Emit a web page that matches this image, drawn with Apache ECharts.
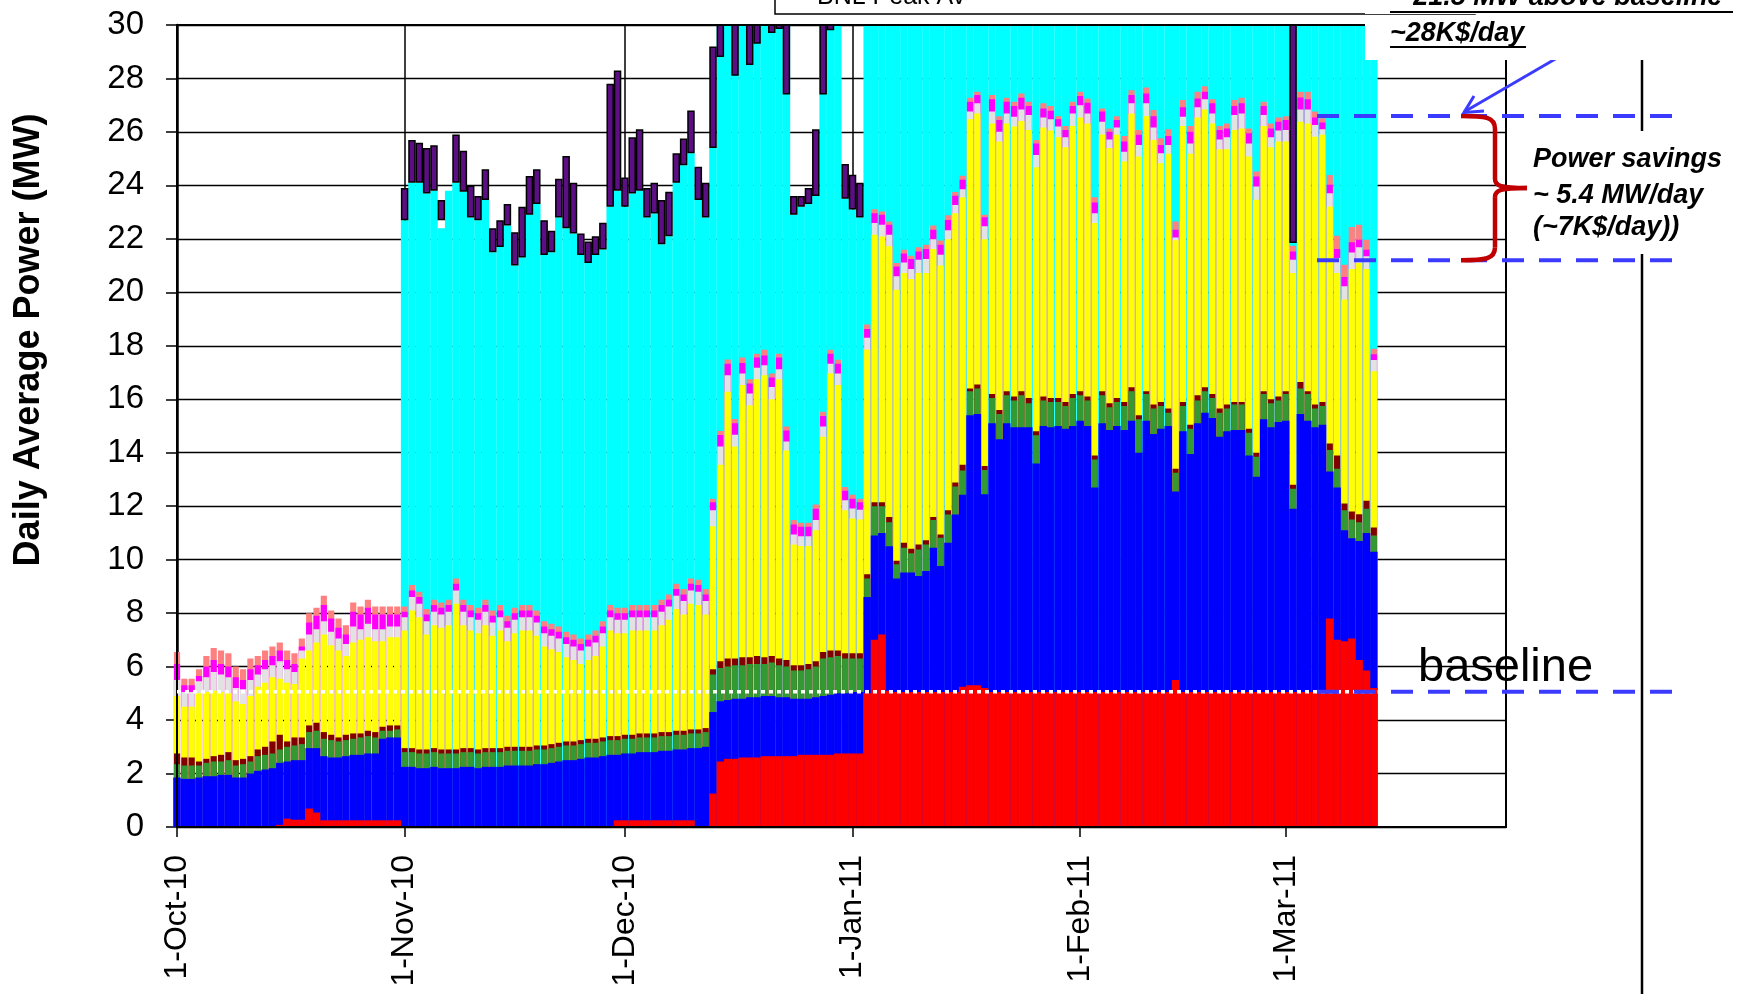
<!DOCTYPE html>
<html><head><meta charset="utf-8">
<script src="https://cdn.jsdelivr.net/npm/echarts@6/dist/echarts.min.js"></script>
<style>html,body{margin:0;padding:0;background:#fff;}#chart{width:1740px;height:994px;}</style>
</head><body><div id="chart"></div>
<script>
// ---------- axis / categories ----------
const axisStart = [2010, 9, 1];   // 1-Oct-10
const axisDays = 182;             // through 31-Mar-11
const monthTickLabels = {'2010-10-01':'1-Oct-10','2010-11-01':'1-Nov-10','2010-12-01':'1-Dec-10','2011-01-01':'1-Jan-11','2011-02-01':'1-Feb-11','2011-03-01':'1-Mar-11'};
const yMin = 0, yMax = 30, yStep = 2;

// ---------- daily data (day 0 = 1-Oct-10), cumulative level of the top of each layer, MW ----------
const salmonTop = [6.55,5.55,5.55,5.9,6.4,6.7,6.6,6.5,6.0,5.9,6.3,6.4,6.6,6.75,6.9,6.6,6.5,7.05,8.0,8.2,8.65,8.1,7.8,7.55,8.4,8.25,8.5,8.25,8.25,8.25,8.25,
8.25,9.05,8.8,8.15,8.5,8.4,8.5,9.3,8.5,8.3,8.2,8.5,8.1,8.3,7.9,8.2,8.3,8.3,8.1,7.7,7.6,7.5,7.3,7.2,7.05,7.2,7.35,7.7,8.3,8.2,8.2,8.3,8.3,8.3,8.3,8.5,8.7,9.1,8.9,9.3,9.25,8.9,
12.28,14.81,17.49,15.26,17.56,16.75,17.7,17.85,16.96,17.7,14.98,11.48,11.38,11.38,12.06,15.53,17.85,17.48,12.72,12.43,12.28,18.8,
23.11,23.02,22.65,21.1,21.59,21.37,21.69,21.78,22.5,21.94,22.88,23.75,24.36,27.28,27.5,22.9,27.38,26.59,27.28,27.13,27.44,27.13,25.7,27.07,26.97,26.59,26.22,27.13,27.5,27.25,23.56,26.88,26.13,26.59,25.85,27.56,26.07,27.66,26.82,25.76,26.1,22.65,27.19,26.22,27.5,27.71,27.22,26.22,26.32,27.19,27.28,26.13,24.52,27.13,26.32,26.54,26.59,21.74,27.5,27.5,26.76,26.51,24.39,22.12,21.03,22.44,22.53,21.97,17.89];
const magentaTop = [6.1,5.3,5.3,5.65,6.0,6.25,6.1,6.0,5.6,5.5,5.9,6.05,6.25,6.4,6.6,6.25,6.1,6.75,7.65,7.9,8.3,7.8,7.45,7.2,8.05,7.95,8.2,7.95,7.95,7.95,7.95,
8.05,8.85,8.6,7.95,8.3,8.2,8.3,9.1,8.3,8.1,8.0,8.3,7.9,8.1,7.7,8.0,8.1,8.1,7.9,7.5,7.4,7.3,7.1,7.0,6.85,7.0,7.15,7.5,8.1,8.0,8.0,8.1,8.1,8.1,8.1,8.3,8.5,8.9,8.7,9.1,9.05,8.7,
12.15,14.66,17.33,15.1,17.36,16.59,17.56,17.64,16.81,17.56,14.83,11.32,11.23,11.23,11.9,15.37,17.7,17.33,12.58,12.28,12.15,18.63,
22.96,22.9,22.53,20.97,21.45,21.25,21.53,21.62,22.34,21.78,22.71,23.61,24.21,27.13,27.38,22.81,27.22,26.45,27.13,26.97,27.28,26.97,25.57,26.88,26.79,26.47,26.07,26.97,27.34,27.09,23.36,26.76,26.01,26.45,25.64,27.38,25.89,27.44,26.59,25.51,25.85,22.34,26.92,26.01,27.25,27.5,27.07,26.07,26.13,26.97,27.07,25.95,24.33,26.97,26.13,26.38,26.45,21.53,27.29,27.22,26.54,26.35,24.02,21.62,20.57,21.87,21.97,21.59,17.68];
const grayTop = [5.5,5.05,5.05,5.45,5.6,5.8,5.7,5.6,5.2,5.15,5.5,5.7,5.9,6.05,6.2,5.9,5.8,6.6,7.2,7.4,7.7,7.3,7.05,6.85,7.5,7.4,7.6,7.4,7.4,7.5,7.5,
7.85,8.6,8.35,7.7,8.05,7.95,8.05,8.85,8.05,7.85,7.75,8.05,7.65,7.85,7.45,7.75,7.85,7.85,7.65,7.25,7.15,7.05,6.85,6.75,6.6,6.75,6.9,7.25,7.85,7.75,7.75,7.85,7.85,7.85,7.85,8.05,8.25,8.65,8.45,8.85,8.8,8.45,
11.85,14.23,16.9,14.67,16.96,16.22,17.18,17.27,16.46,17.12,14.42,10.94,10.88,10.88,11.48,14.98,17.33,16.96,12.22,11.91,11.87,18.3,
22.59,22.53,22.15,20.6,21.12,20.87,21.22,21.25,21.99,21.41,22.32,23.27,23.86,26.76,27.07,22.47,26.76,26.01,26.69,26.57,26.84,26.63,25.14,26.54,26.47,26.2,25.8,26.69,27.0,26.69,22.96,26.38,25.72,26.17,25.26,27.07,25.51,27.07,26.17,25.2,25.51,22.05,26.57,25.57,26.92,27.22,26.69,25.72,25.8,26.63,26.69,25.57,23.96,26.63,25.8,26.05,26.07,21.22,26.84,26.84,26.26,26.1,23.71,21.28,20.23,21.49,21.69,21.35,17.47];
const yellowTop = [4.9,4.5,4.5,5.0,5.05,5.1,5.05,5.0,4.7,4.6,4.9,5.25,5.4,5.6,5.55,5.4,5.35,6.3,6.6,6.9,7.2,6.8,6.6,6.4,6.9,7.0,7.1,6.95,6.95,7.1,7.1,
7.35,8.1,7.85,7.2,7.55,7.45,7.55,8.35,7.55,7.35,7.25,7.55,7.15,7.35,6.95,7.25,7.35,7.35,7.15,6.75,6.65,6.55,6.35,6.25,6.1,6.25,6.4,6.75,7.35,7.25,7.25,7.35,7.35,7.35,7.35,7.55,7.75,8.15,7.95,8.35,8.3,7.95,
11.25,13.55,16.28,14.23,16.53,15.78,16.75,16.9,16.0,16.75,14.08,10.57,10.51,10.51,11.1,14.6,16.96,16.53,11.85,11.54,11.5,17.86,
22.15,22.09,21.72,20.1,20.72,20.5,20.72,20.72,21.62,21.0,21.99,22.96,23.56,26.47,26.69,21.99,26.32,25.64,26.32,26.2,26.41,26.07,24.68,26.17,26.05,25.8,25.43,26.22,26.54,26.32,22.59,25.9,25.4,25.89,24.89,26.69,25.08,26.59,25.7,24.83,25.18,21.95,26.22,25.18,26.54,26.84,26.32,25.35,25.35,26.07,26.13,25.08,23.46,26.22,25.43,25.64,25.64,20.72,26.38,26.32,25.82,25.89,23.21,20.72,19.73,20.87,21.1,20.87,17.05];
const maroonTop = [2.75,2.6,2.6,2.45,2.55,2.65,2.7,2.8,2.5,2.55,2.65,2.9,3.0,3.2,3.45,3.2,3.35,3.35,3.8,3.9,3.55,3.45,3.35,3.45,3.5,3.5,3.6,3.55,3.75,3.8,3.8,
2.95,2.95,2.9,2.9,2.95,2.9,2.9,2.9,2.95,2.95,2.9,2.95,2.95,2.95,3.0,3.0,3.0,3.0,3.05,3.05,3.1,3.15,3.2,3.2,3.25,3.3,3.3,3.35,3.4,3.4,
3.45,3.45,3.5,3.5,3.5,3.55,3.55,3.6,3.6,3.65,3.65,3.7,
5.9,6.2,6.3,6.3,6.35,6.35,6.4,6.35,6.4,6.3,6.25,6.05,6.05,6.1,6.2,6.55,6.6,6.6,6.5,6.5,6.5,
9.45,12.15,12.15,11.6,9.96,10.63,10.41,10.57,10.73,11.6,10.94,11.85,12.89,13.55,16.4,16.55,13.5,16.2,15.6,16.3,16.1,16.3,16.05,14.8,16.1,16.05,16.05,15.9,16.2,16.3,16.1,13.9,16.3,15.85,16.05,15.9,16.45,15.4,16.3,15.8,15.9,15.65,13.4,15.9,15.05,16.15,16.45,16.2,15.65,15.8,15.9,15.9,14.9,14.0,16.3,16.0,16.1,16.3,12.8,16.65,16.3,15.8,15.9,14.35,13.9,12.1,11.8,11.7,12.2,11.2];
const greenTop = [2.35,2.3,2.3,2.3,2.4,2.45,2.45,2.5,2.3,2.35,2.45,2.65,2.7,2.75,2.9,3.0,3.05,3.1,3.55,3.6,3.3,3.25,3.2,3.25,3.3,3.35,3.4,3.35,3.6,3.6,3.65,
2.8,2.8,2.75,2.75,2.8,2.75,2.75,2.75,2.8,2.8,2.75,2.8,2.8,2.8,2.85,2.85,2.85,2.85,2.9,2.9,2.95,3.0,3.05,3.05,3.1,3.15,3.15,3.2,3.25,3.25,
3.3,3.3,3.35,3.35,3.35,3.4,3.4,3.45,3.45,3.5,3.5,3.55,
5.7,5.95,6.0,6.05,6.05,6.1,6.1,6.1,6.15,6.05,6.0,5.85,5.85,5.9,6.0,6.3,6.35,6.4,6.3,6.3,6.3,
9.3,12.0,12.0,11.4,9.83,10.45,10.24,10.38,10.57,11.48,10.82,11.69,12.74,13.34,16.3,16.4,13.35,16.05,15.45,16.15,15.95,16.15,15.85,14.65,15.95,15.9,15.9,15.75,16.05,16.15,15.95,13.75,16.15,15.7,15.9,15.75,16.3,15.25,16.2,15.65,15.75,15.5,13.25,15.75,14.9,15.95,16.3,16.05,15.5,15.65,15.8,15.8,14.75,13.85,16.2,15.85,15.95,16.2,12.65,16.4,16.2,15.65,15.75,14.1,13.4,11.85,11.5,11.4,11.9,10.9];
const blueTop = [1.85,1.8,1.8,1.85,1.9,1.9,1.95,1.95,1.85,1.85,2.0,2.1,2.15,2.2,2.4,2.45,2.5,2.5,2.95,2.95,2.65,2.6,2.6,2.65,2.7,2.7,2.75,2.75,3.3,3.35,3.35,
2.25,2.25,2.2,2.2,2.25,2.2,2.2,2.2,2.25,2.25,2.2,2.25,2.25,2.25,2.3,2.3,2.3,2.3,2.35,2.35,2.4,2.45,2.5,2.5,2.55,2.6,2.6,2.65,2.7,2.7,
2.75,2.75,2.8,2.8,2.8,2.85,2.85,2.9,2.9,2.95,2.95,3.0,
4.3,4.7,4.75,4.8,4.8,4.85,4.85,4.9,4.9,4.85,4.85,4.8,4.8,4.8,4.85,4.9,4.95,5.0,5.0,5.05,5.05,
8.6,10.9,11.0,10.5,9.3,9.52,9.52,9.39,9.58,10.45,9.76,10.63,11.69,12.43,15.4,15.45,12.45,15.1,14.5,15.1,14.95,14.95,14.95,13.6,15.0,14.95,15.0,14.9,15.0,15.2,15.0,12.7,15.1,14.85,15.0,14.85,15.2,14.0,15.2,14.7,14.9,15.0,12.55,14.8,13.95,15.1,15.5,15.3,14.6,14.8,14.85,14.85,13.9,13.1,15.25,14.95,15.15,15.2,11.9,15.45,15.2,14.95,15.05,13.3,12.7,11.1,10.8,10.7,11.0,10.3];
const redTop = [0,0,0,0,0,0,0,0,0,0,0,0,0,0,0.08,0.31,0.27,0.27,0.69,0.54,0.25,0.25,0.25,0.25,0.25,0.25,0.25,0.25,0.25,0.25,0.25,
0,0,0,0,0,0,0,0,0,0,0,0,0,0,0,0,0,0,0,0,0,0,0,0,0,0,0,0,0,0.25,0.25,0.25,0.25,0.25,0.25,0.25,0.25,0.25,0.25,0.25,0,0,
1.25,2.45,2.55,2.55,2.6,2.6,2.6,2.65,2.65,2.65,2.65,2.65,2.7,2.7,2.7,2.7,2.7,2.75,2.75,2.75,2.75,
5.0,7.0,7.2,5.1,5.05,5.05,5.05,5.05,5.05,5.05,5.05,5.05,5.05,5.25,5.3,5.3,5.2,
5.05,5.05,5.05,5.05,5.05,5.05,5.05,5.05,5.05,5.05,5.05,5.05,5.05,5.05,5.05,5.05,5.05,5.05,5.05,5.05,5.05,5.05,5.05,5.05,5.05,5.5,
5.05,5.05,5.05,5.05,5.05,5.05,5.05,5.05,5.05,5.05,5.05,5.05,5.05,5.05,5.05,5.05,5.05,5.05,5.05,5.05,
7.8,7.0,6.95,7.05,6.25,5.85,5.2];
const cyanTop = [null,null,null,null,null,null,null,null,null,null,null,null,null,null,null,null,null,null,null,null,null,null,null,null,null,null,null,null,null,null,null,
22.7,24.1,24.1,23.7,23.8,22.4,23.8,24.1,23.76,22.8,22.7,23.45,21.5,21.7,22.5,21.0,21.3,22.9,23.3,21.4,21.5,22.8,22.4,22.2,21.4,21.1,21.4,21.6,23.2,23.8,23.2,23.7,23.8,22.8,22.95,21.8,22.1,24.1,24.75,25.2,23.45,22.8,
25.4,32,32,32,32,32,32,32,32,32,32,22.9,23.2,23.3,23.6,32,32,32,23.5,23.1,22.8,
32,32,32,32,32,32,32,32,32,32,32,32,32,32,32,32,32,32,32,32,32,32,32,32,32,32,32,32,32,32,32,32,32,32,32,
32,32,32,32,32,32,32,32,32,32,32,32,32,32,32,32,32,32,32,32,32,32,32,32,32,32,32,32,32,32,32,32,32,32,32];
// purple high-low bars: [day, low, high]
const purpleBars = [[31,22.7,23.9],[32,24.1,25.7],[33,24.1,25.6],[34,23.7,25.4],[35,23.8,25.5],[36,22.7,23.45],[38,24.1,25.9],[39,23.76,25.3],[40,22.8,24.0],[41,22.7,23.6],[42,23.45,24.6],[43,21.5,22.4],[44,21.7,22.7],[45,22.5,23.3],[46,21.0,22.25],[47,21.3,23.2],[48,22.9,24.35],[49,23.3,24.6],[50,21.4,22.7],[51,21.5,22.3],[52,22.8,24.25],[53,22.4,25.1],[54,22.2,24.1],[55,21.4,22.2],[56,21.1,21.9],[57,21.4,22.1],[58,21.6,22.6],[59,23.2,27.8],[60,23.8,28.3],[61,23.2,24.3],[62,23.7,25.8],[63,23.8,26.1],[64,22.8,23.9],[65,22.95,24.1],[66,21.8,23.45],[67,22.1,23.76],[68,24.1,25.2],[69,24.75,25.75],[70,25.2,26.8],[71,23.45,24.7],[72,22.8,24.1],[73,25.4,29.2],[74,28.8,32],[76,28.1,32],[78,28.5,32],[79,29.3,32],[81,29.7,32],[82,29.85,32],[83,27.4,32],[84,22.9,23.6],[85,23.2,23.6],[86,23.3,23.9],[87,23.6,26.1],[88,27.4,32],[89,29.8,32],[91,23.5,24.8],[92,23.1,24.4],[93,22.8,24.1],[152,21.85,32]];

// annotation levels (MW)
const baselineLevel = 5.06;
const savingTopLevel = 26.6;
const savingBottomLevel = 21.2;

// ---------- build options ----------
const categories = [];
const t0 = Date.UTC(axisStart[0], axisStart[1], axisStart[2]);
for (let i = 0; i < axisDays; i++) categories.push(new Date(t0 + i * 86400000).toISOString().slice(0, 10));
const isMonthStart = (idx, val) => val.slice(8) === '01';

const purpleLow = new Array(salmonTop.length).fill(null);
const purpleSpan = new Array(salmonTop.length).fill(null);
purpleBars.forEach(([d, lo, hi]) => { purpleLow[d] = lo; purpleSpan[d] = hi - lo; });

const FONT = '"Liberation Sans", Arial, sans-serif';
const full = {type:'bar', xAxisIndex:1, yAxisIndex:0, barWidth:'102%', barGap:'-100%', clip:true, silent:true};
const gapped = {type:'bar', xAxisIndex:0, yAxisIndex:0, barCategoryGap:'16%', barGap:'-100%', clip:true, silent:true};

const chart = echarts.init(document.getElementById('chart'), null, {renderer:'canvas', width:1740, height:994});
const option = {
  animation:false,
  backgroundColor:'#ffffff',
  textStyle:{fontFamily:FONT},
  grid:{left:177, right:234, top:25, bottom:167, containLabel:false, outerBoundsMode:'none'},
  xAxis:[{
    type:'category', data:categories, boundaryGap:false,
    axisLine:{show:true, onZero:false, lineStyle:{color:'#000', width:2}},
    axisTick:{show:true, interval:isMonthStart, length:10, lineStyle:{color:'#000', width:1.5}},
    axisLabel:{show:true, interval:isMonthStart, rotate:90, margin:28, fontSize:32, color:'#000', fontFamily:FONT,
      formatter:v => monthTickLabels[v] || ''},
    splitLine:{show:true, interval:isMonthStart, lineStyle:{color:'#000', width:1.5}}
  },{
    type:'category', data:categories, boundaryGap:false, show:false
  }],
  yAxis:{type:'value', min:yMin, max:yMax, interval:yStep,
    axisLine:{show:true, lineStyle:{color:'#000', width:2.5}},
    axisTick:{show:true, length:11, lineStyle:{color:'#000', width:1.5}},
    axisLabel:{fontSize:33, color:'#000', margin:33, fontFamily:FONT},
    splitLine:{show:true, lineStyle:{color:'#000', width:1.3}}},
  series:[
    {...full, name:'cyan', data:cyanTop, itemStyle:{color:'#00ffff'}},
    {...gapped, name:'salmon', data:salmonTop, itemStyle:{color:'#ff8080'}},
    {...gapped, name:'magenta', data:magentaTop, itemStyle:{color:'#ff00ff'}},
    {...gapped, name:'gray', data:grayTop, itemStyle:{color:'#e2e2e2'}},
    {...gapped, name:'yellow', data:yellowTop, itemStyle:{color:'#ffff00'}},
    {...gapped, name:'maroon', data:maroonTop, itemStyle:{color:'#800000'}},
    {...gapped, name:'green', data:greenTop, itemStyle:{color:'#339933'}},
    {...full, name:'blue', data:blueTop, itemStyle:{color:'#0000ff'}},
    {...full, name:'red', data:redTop, itemStyle:{color:'#ff0000'}},
    {...full, name:'peakBase', stack:'peak', data:purpleLow, itemStyle:{color:'rgba(0,0,0,0)'}},
    {...full, name:'BNL Peak', stack:'peak', data:purpleSpan, itemStyle:{color:'#5c0f82', borderColor:'#000', borderWidth:1.5}}
  ]
};
chart.setOption(option);

// ---------- annotations ----------
const yPx = v => chart.convertToPixel({yAxisIndex:0}, v);
const xPx = i => chart.convertToPixel({xAxisIndex:0}, i);
const band = xPx(1) - xPx(0);
const gl = xPx(0), gr = xPx(axisDays - 1), gt = yPx(yMax), gb = yPx(yMin);
const yB = yPx(baselineLevel), yT = yPx(savingTopLevel), yS = yPx(savingBottomLevel);
const xDataEnd = xPx(salmonTop.length - 1) + band / 2;
const blue = '#3b3bff';
const dash = {stroke:blue, lineWidth:4, lineDash:[22,15]};
const ym = (yT + yS) / 2;
const bx0 = 1461, bx1 = 1495, btip = 1527;
const braceStyle = {fill:null, stroke:'#c00000', lineWidth:4.5};
const bz = (x1,y1,cpx1,cpy1,cpx2,cpy2,x2,y2) => ({type:'bezierCurve', z:62, shape:{x1,y1,cpx1,cpy1,cpx2,cpy2,x2,y2}, style:braceStyle});
const bl = (x1,y1,x2,y2) => ({type:'line', z:62, shape:{x1,y1,x2,y2}, style:braceStyle});
const bi = 'italic bold 27px ' + FONT;
const txt = (x, y, text, font) => ({type:'text', x, y, z:80,
  style:{text, font, fill:'#000', align:'left', verticalAlign:'middle', textAlign:'left', textVerticalAlign:'middle'}});

chart.setOption({graphic:[
  {type:'rect', z:50, shape:{x:gl, y:gt, width:gr-gl, height:gb-gt}, style:{fill:null, stroke:'#000', lineWidth:2}},
  {type:'line', z:55, shape:{x1:gl, y1:yB, x2:xDataEnd, y2:yB}, style:{stroke:'#fff', lineWidth:3.5, lineDash:[4,4]}},
  {type:'line', z:60, shape:{x1:1317, y1:yB, x2:1676, y2:yB}, style:dash},
  {type:'line', z:60, shape:{x1:1317, y1:yT, x2:1676, y2:yT}, style:dash},
  {type:'line', z:60, shape:{x1:1317, y1:yS, x2:1676, y2:yS}, style:dash},
  bz(bx0, yT, bx1-10, yT, bx1, yT+1, bx1, yT+13),
  bl(bx1, yT+13, bx1, ym-9),
  bz(bx1, ym-9, bx1, ym-2, bx1+6, ym, btip, ym),
  bz(btip, ym, bx1+6, ym, bx1, ym+2, bx1, ym+9),
  bl(bx1, ym+9, bx1, yS-13),
  bz(bx1, yS-13, bx1, yS-1, bx1-10, yS, bx0, yS),
  {type:'line', z:62, shape:{x1:1557, y1:58, x2:1464, y2:112}, style:{stroke:blue, lineWidth:3}},
  {type:'polyline', z:62, shape:{points:[[1484,111],[1464,112.5],[1474,96]]}, style:{fill:null, stroke:blue, lineWidth:3}},
  {type:'line', z:60, shape:{x1:1642, y1:60, x2:1642, y2:131}, style:{stroke:'#000', lineWidth:2.5}},
  {type:'line', z:60, shape:{x1:1642, y1:254, x2:1642, y2:994}, style:{stroke:'#000', lineWidth:2.5}},
  {type:'rect', z:70, shape:{x:1365, y:-5, width:400, height:65}, style:{fill:'#fff', stroke:null}},
  {type:'rect', z:70, shape:{x:775, y:-40, width:700, height:54}, style:{fill:'#fff', stroke:'#000', lineWidth:1.5}},
  {type:'rect', z:71, shape:{x:1365, y:-5, width:400, height:19}, style:{fill:'#fff', stroke:null}},
  txt(817, -3, 'BNL Peak Av', '25px ' + FONT),
  txt(1390, -2, '~ 21.5 MW above baseline', bi),
  {type:'line', z:80, shape:{x1:1390, y1:12, x2:1733, y2:12}, style:{stroke:'#000', lineWidth:2}},
  txt(1390, 33.5, '~28K$/day', bi),
  {type:'line', z:80, shape:{x1:1390, y1:47, x2:1526, y2:47}, style:{stroke:'#000', lineWidth:2}},
  txt(1533, 159.5, 'Power savings', bi),
  txt(1533, 195.5, '~ 5.4 MW/day', bi),
  txt(1533, 227.5, '(~7K$/day))', bi),
  txt(1418, 668.5, 'baseline', '47px ' + FONT),
  {type:'text', z:80, x:29, y:340, rotation:Math.PI/2,
    style:{text:'Daily Average Power (MW)', font:'bold 36px ' + FONT, fill:'#000', align:'center', verticalAlign:'middle', textAlign:'center', textVerticalAlign:'middle'}}
]});
</script></body></html>
